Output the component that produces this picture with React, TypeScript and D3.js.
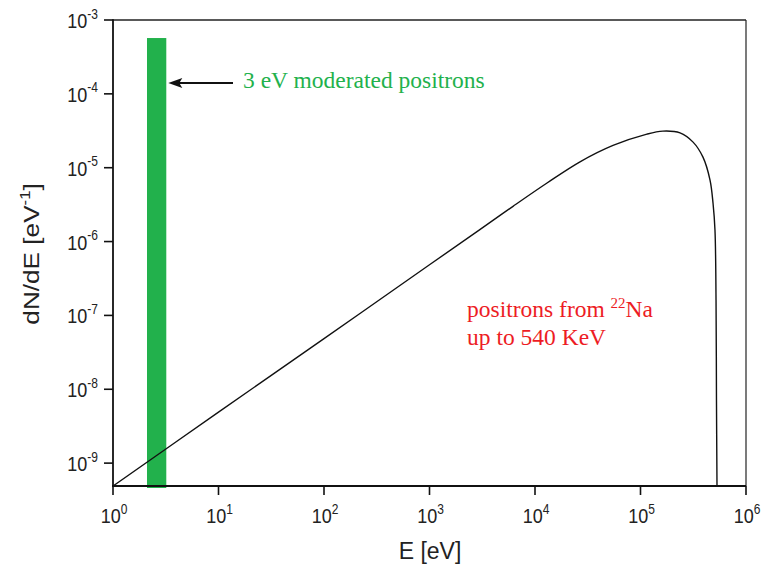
import React from "react";
import * as d3 from "d3";

// Positron energy spectrum of a 22Na source (dN/dE vs E), log-log
const energy = [1, 10, 100, 1000, 3000, 6190, 1.3e4, 2.67e4, 5.49e4, 1.15e5, 1.63e5, 2.37e5, 3.15e5, 3.91e5, 4.56e5, 4.87e5, 5.08e5, 5.2e5, 5.25e5, 5.31e5];
const density = [4.9e-10, 4.9e-9, 4.85e-8, 4.85e-7, 1.45e-6, 3.0e-6, 6.2e-6, 1.2e-5, 2.0e-5, 2.85e-5, 3.13e-5, 2.96e-5, 2.22e-5, 1.39e-5, 6.8e-6, 3.3e-6, 1.43e-6, 1.6e-7, 7.1e-9, 4.9e-10];

// Moderated positron peak (narrow band around 3 eV)
const moderatedBand = [2.1, 3.2];
const moderatedPeak = 5.7e-4;
const arrowLevel = 1.4e-4;

const xTickExponents = [0, 1, 2, 3, 4, 5, 6];
const yTickExponents = [-3, -4, -5, -6, -7, -8, -9];

const W = 761;
const H = 566;
const left = 113;
const right = 746;
const top = 20;
const bottom = 486;

const GREEN = "#22b14c";
const RED = "#ed1c24";

export default function App() {
  const x = d3.scaleLog().domain([1, 1e6]).range([left, right]);
  const y = d3.scaleLog().domain([4.9e-10, 1e-3]).range([bottom, top]);

  const pts = energy.map((e, i) => [x(e), y(density[i])] as [number, number]);
  const line = d3.line().curve(d3.curveCatmullRom.alpha(0.5))(pts) as string;

  const barX0 = x(moderatedBand[0]);
  const barX1 = x(moderatedBand[1]);
  const barTop = y(moderatedPeak);
  const ay = y(arrowLevel);

  const sans = "Arial, 'Liberation Sans', Helvetica, sans-serif";
  const serif = "'Times New Roman', 'Liberation Serif', serif";

  return (
    <svg width={W} height={H} style={{ position: "absolute", left: 0, top: 0, background: "#fff" }}>
      <defs>
        <clipPath id="plotClip">
          <rect x={left} y={top} width={right - left} height={bottom - top} />
        </clipPath>
      </defs>

      {/* moderated positron band */}
      <rect x={barX0} y={barTop} width={barX1 - barX0} height={bottom + 2 - barTop} fill={GREEN} />

      {/* beta+ spectrum */}
      <path d={line} fill="none" stroke="#111" strokeWidth={1.4} clipPath="url(#plotClip)" />

      {/* frame */}
      <line x1={left} y1={top} x2={right} y2={top} stroke="#222" strokeWidth={1.3} />
      <line x1={right} y1={top} x2={right} y2={bottom} stroke="#222" strokeWidth={1.2} />
      <line x1={left} y1={top - 0.7} x2={left} y2={bottom + 1} stroke="#111" strokeWidth={1.8} />
      <line x1={left - 1} y1={bottom} x2={right} y2={bottom} stroke="#111" strokeWidth={1.8} />

      {/* x ticks */}
      {xTickExponents.map((p) => {
        const tx = x(Math.pow(10, p));
        return (
          <g key={"x" + p}>
            <line x1={tx} y1={bottom} x2={tx} y2={bottom + 9} stroke="#111" strokeWidth={1.6} />
            <g transform={`translate(${tx + 1},${bottom + 37}) scale(1,1.17)`}>
              <text textAnchor="middle" fontFamily={sans} fontSize={18} fill="#222">
                10
                <tspan fontSize={12} dy={-8}>{p}</tspan>
              </text>
            </g>
          </g>
        );
      })}

      {/* y ticks */}
      {yTickExponents.map((p) => {
        const ty = y(Math.pow(10, p));
        return (
          <g key={"y" + p}>
            <line x1={left - 9} y1={ty} x2={left} y2={ty} stroke="#111" strokeWidth={1.6} />
            <g transform={`translate(${98},${ty + 8}) scale(1,1.17)`}>
              <text textAnchor="end" fontFamily={sans} fontSize={18} fill="#222">
                10
                <tspan fontSize={12} dy={-8}>{p}</tspan>
              </text>
            </g>
          </g>
        );
      })}

      {/* axis titles */}
      <text x={430} y={559} textAnchor="middle" fontFamily={sans} fontSize={23} fill="#222">
        E [eV]
      </text>
      <g transform={`translate(39,254) rotate(-90) scale(1.19,1)`}>
        <text textAnchor="middle" fontFamily={sans} fontSize={22} fill="#222">
          dN/dE [eV
          <tspan fontSize={14} dy={-9}>-1</tspan>
          <tspan dy={9}>]</tspan>
        </text>
      </g>

      {/* arrow to the moderated band */}
      <line x1={233} y1={ay} x2={barX1 + 12} y2={ay} stroke="#111" strokeWidth={2} />
      <path
        d={`M${barX1 + 2},${ay} L${barX1 + 16},${ay - 5} L${barX1 + 13},${ay} L${barX1 + 16},${ay + 5} Z`}
        fill="#111"
      />
      <text x={243} y={88} fontFamily={serif} fontSize={23.5} fill={GREEN}>
        3 eV moderated positrons
      </text>

      {/* source annotation */}
      <text x={467} y={317} fontFamily={serif} fontSize={23.5} fill={RED}>
        positrons from{" "}
        <tspan fontSize={15} dy={-9}>22</tspan>
        <tspan dy={9}>Na</tspan>
      </text>
      <text x={467} y={345} fontFamily={serif} fontSize={23.5} fill={RED}>
        up to 540 KeV
      </text>
    </svg>
  );
}
